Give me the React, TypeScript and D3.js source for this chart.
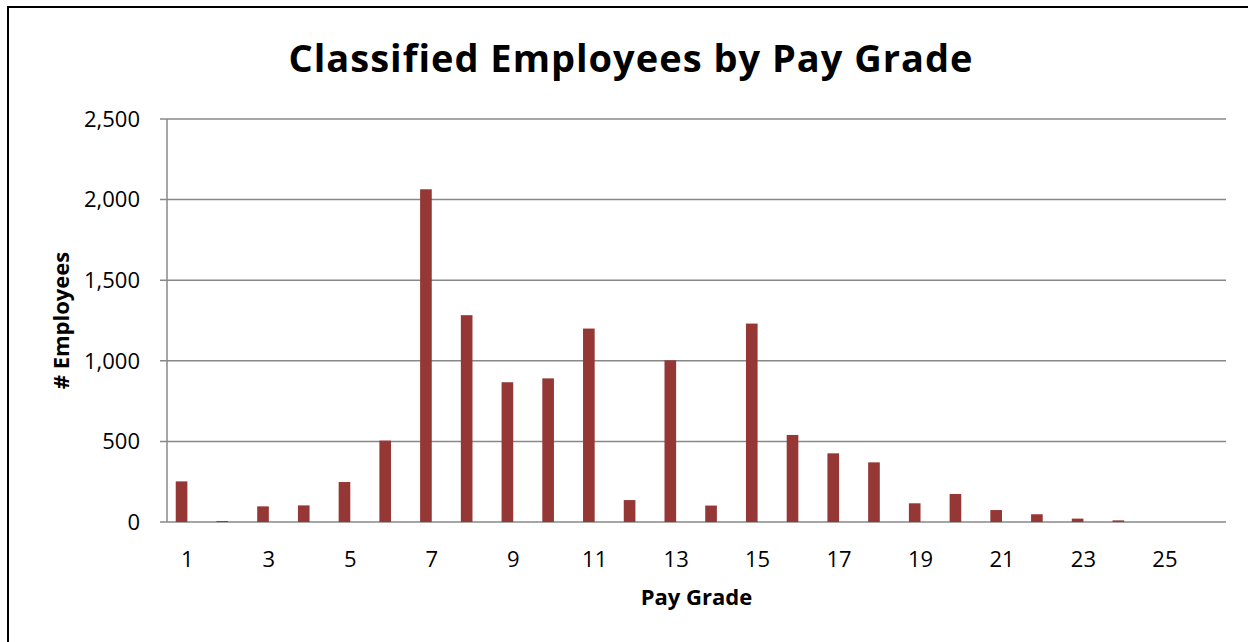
import * as d3 from 'd3';
import React, { useEffect, useRef } from 'react';

const grades = d3.range(1, 27).map(String);
const employees = [
  252, 6, 97, 103, 248, 505, 2064, 1283, 867, 891, 1200, 136, 1003, 102, 1231, 540, 426, 370, 116, 174, 74,
  48, 21, 10, 0, 0,
];
const yTicks = [0, 500, 1000, 1500, 2000, 2500];
const xTickLabels = ['1', '3', '5', '7', '9', '11', '13', '15', '17', '19', '21', '23', '25'];

const width = 1248;
const height = 642;
const margin = { top: 119, right: 22, bottom: 120, left: 167 };
const font = '"Open Sans", Lato, sans-serif';

const App = () => {
  const svgRef = useRef(null);

  useEffect(() => {
    const svg = d3.select(svgRef.current);
    svg.selectAll('*').remove();

    const innerW = width - margin.left - margin.right;
    const innerH = height - margin.top - margin.bottom;

    // frame round the chart
    svg
      .append('rect')
      .attr('x', 8)
      .attr('y', 7)
      .attr('width', width + 10)
      .attr('height', height + 10)
      .style('fill', '#fff')
      .style('stroke', '#000')
      .style('stroke-width', 2);

    const x = d3.scaleBand().domain(grades).range([0, innerW]).padding(0);
    // Excel cluster of two series (second one empty), gap width 150%
    const inner = d3
      .scaleBand()
      .domain(['employees', 'blank'])
      .range([0, x.bandwidth()])
      .paddingInner(0)
      .paddingOuter(0.75);
    const y = d3.scaleLinear().domain([0, 2500]).range([innerH, 0]);

    const g = svg.append('g').attr('transform', `translate(${margin.left},${margin.top})`);

    g.append('g')
      .selectAll('line')
      .data(yTicks)
      .enter()
      .append('line')
      .attr('x1', -7)
      .attr('x2', innerW)
      .attr('y1', (d) => y(d))
      .attr('y2', (d) => y(d))
      .style('stroke', '#888')
      .style('stroke-width', 1.5);

    g.append('line')
      .attr('x1', 0)
      .attr('x2', 0)
      .attr('y1', 0)
      .attr('y2', innerH)
      .style('stroke', '#888')
      .style('stroke-width', 1.5);

    g.append('g')
      .selectAll('text')
      .data(yTicks)
      .enter()
      .append('text')
      .attr('x', -27)
      .attr('y', (d) => y(d))
      .attr('dy', '0.35em')
      .attr('text-anchor', 'end')
      .style('font-family', font)
      .style('font-size', '22px')
      .text((d) => d3.format(',')(d));

    g.append('g')
      .selectAll('rect')
      .data(employees)
      .enter()
      .append('rect')
      .attr('x', (d, i) => (x(grades[i]) as number) + (inner('employees') as number))
      .attr('y', (d) => y(d))
      .attr('width', inner.bandwidth())
      .attr('height', (d) => innerH - y(d))
      .style('fill', '#953735');

    g.append('g')
      .selectAll('text')
      .data(xTickLabels)
      .enter()
      .append('text')
      .attr('x', (d) => (x(d) as number) + x.bandwidth() / 2)
      .attr('y', innerH + 45)
      .attr('text-anchor', 'middle')
      .style('font-family', font)
      .style('font-size', '22px')
      .text((d) => d);

    svg
      .append('text')
      .attr('x', margin.left + innerW / 2)
      .attr('y', 605)
      .attr('text-anchor', 'middle')
      .style('font-family', font)
      .style('font-size', '22px')
      .style('font-weight', 'bold')
      .text('Pay Grade');

    svg
      .append('text')
      .attr('transform', `translate(69,${margin.top + innerH / 2}) rotate(-90)`)
      .attr('text-anchor', 'middle')
      .style('font-family', font)
      .style('font-size', '22px')
      .style('font-weight', 'bold')
      .text('# Employees');

    svg
      .append('text')
      .attr('x', 631)
      .attr('y', 72)
      .attr('text-anchor', 'middle')
      .style('font-family', font)
      .style('font-size', '38px')
      .style('font-weight', 'bold')
      .style('letter-spacing', '1px')
      .text('Classified Employees by Pay Grade');
  }, []);

  return (
    <svg
      ref={svgRef}
      width={width}
      height={height}
      style={{ position: 'absolute', left: 0, top: 0, background: '#fff' }}
    />
  );
};

export default App;
